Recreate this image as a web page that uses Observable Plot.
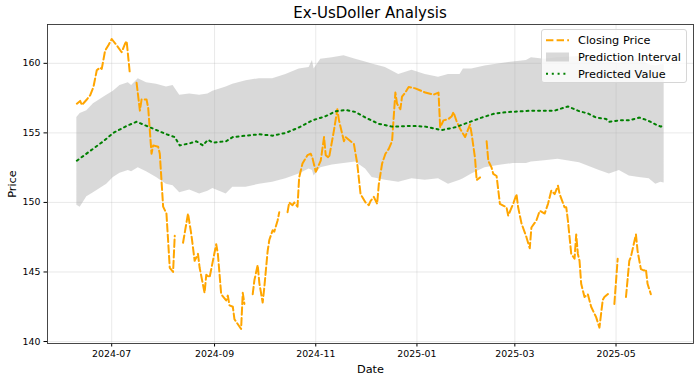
<!DOCTYPE html>
<html>
<head>
<meta charset="utf-8">
<script src="https://cdn.jsdelivr.net/npm/d3@7"></script>
<script src="https://cdn.jsdelivr.net/npm/@observablehq/plot@0.6"></script>
<style>
  html, body { margin: 0; padding: 0; background: white; }
  #wrap { position: relative; width: 700px; height: 383px; font-family: "DejaVu Sans", sans-serif; }
  #title { height: 20px; box-sizing: border-box; padding-top: 6px; margin-left: 47px; width: 646px;
           text-align: center; font-size: 15px; line-height: 15px; color: #000; }
  #legend { position: absolute; left: 541px; top: 29px; width: 146px; height: 54px; box-sizing: border-box;
            background: rgba(255,255,255,0.8); border: 1px solid #d6d6d6; border-radius: 3px; }
  #legend svg { position: absolute; left: -1px; top: -1px; }
</style>
</head>
<body>
<div id="wrap">
  <div id="title">Ex-UsDoller Analysis</div>
  <div id="chart"></div>
  <div id="legend"></div>
</div>
<script>
// ---- Data ----
const closeDates = [
  "2024-06-10","2024-06-12","2024-06-13","2024-06-16","2024-06-18","2024-06-20","2024-06-22","2024-06-24","2024-06-25","2024-06-27",
  "2024-06-29","2024-07-01","2024-07-04","2024-07-07","2024-07-09","2024-07-10","2024-07-12","2024-07-14","2024-07-16","2024-07-18",
  "2024-07-19","2024-07-22","2024-07-23","2024-07-25","2024-07-26","2024-07-29","2024-07-30","2024-08-01","2024-08-03","2024-08-05",
  "2024-08-07","2024-08-08","2024-08-10","2024-08-13","2024-08-16","2024-08-18","2024-08-20","2024-08-22","2024-08-23","2024-08-26",
  "2024-08-27","2024-08-29","2024-08-31","2024-09-02","2024-09-03","2024-09-05","2024-09-08","2024-09-09","2024-09-10","2024-09-12",
  "2024-09-13","2024-09-17","2024-09-18","2024-09-19","2024-09-21","2024-09-24","2024-09-25","2024-09-27","2024-09-28","2024-09-30",
  "2024-10-01","2024-10-03","2024-10-04","2024-10-06","2024-10-07","2024-10-09","2024-10-10","2024-10-12","2024-10-15","2024-10-16",
  "2024-10-18","2024-10-19","2024-10-21","2024-10-22","2024-10-24","2024-10-27","2024-10-29","2024-10-30","2024-11-01","2024-11-04",
  "2024-11-06","2024-11-07","2024-11-09","2024-11-12","2024-11-14","2024-11-15","2024-11-18","2024-11-19","2024-11-24","2024-11-26",
  "2024-11-28","2024-12-01","2024-12-03","2024-12-04","2024-12-06","2024-12-08","2024-12-09","2024-12-11","2024-12-13","2024-12-15",
  "2024-12-17","2024-12-19","2024-12-20","2024-12-22","2024-12-23","2024-12-25","2024-12-27","2024-12-31","2025-01-06","2025-01-11",
  "2025-01-14","2025-01-15","2025-01-17","2025-01-20","2025-01-22","2025-01-23","2025-01-25","2025-01-27","2025-01-29","2025-01-30",
  "2025-02-01","2025-02-02","2025-02-03","2025-02-05","2025-02-06","2025-02-08","2025-02-10","2025-02-12","2025-02-13","2025-02-15",
  "2025-02-16","2025-02-18","2025-02-19","2025-02-20","2025-02-24","2025-02-25","2025-02-28","2025-03-02","2025-03-03","2025-03-05",
  "2025-03-08","2025-03-10","2025-03-11","2025-03-14","2025-03-16","2025-03-19","2025-03-21","2025-03-23","2025-03-25","2025-03-27",
  "2025-03-28","2025-03-31","2025-04-01","2025-04-02","2025-04-04","2025-04-06","2025-04-07","2025-04-08","2025-04-09","2025-04-10",
  "2025-04-12","2025-04-14","2025-04-16","2025-04-19","2025-04-21","2025-04-23","2025-04-24","2025-04-27","2025-04-28","2025-04-30",
  "2025-05-02","2025-05-05","2025-05-07","2025-05-09","2025-05-10","2025-05-13","2025-05-14","2025-05-16","2025-05-18","2025-05-19",
  "2025-05-20","2025-05-22"
];
const closeValues = [
  157.1,157.3,157.0,157.4,157.7,158.3,159.5,159.7,159.6,160.9,
  161.3,161.75,161.3,160.8,161.4,161.6,159.2,null,158.6,156.6,
  157.4,157.4,156.8,153.5,154.1,154.0,153.5,149.7,149.2,145.3,
  145.0,147.6,null,147.1,149.2,147.7,145.8,146.3,145.3,143.5,
  144.8,144.6,145.8,147.0,146.3,143.4,142.95,143.3,142.6,142.5,
  141.6,140.9,143.5,142.7,null,143.4,144.4,145.5,144.2,142.8,
  143.9,146.5,147.3,148.0,147.9,148.7,149.3,null,149.3,150.0,
  149.8,150.0,149.7,151.8,152.8,153.4,153.5,153.2,152.2,153.0,
  154.7,153.4,153.2,155.2,156.7,155.9,154.4,154.7,154.2,152.8,
  150.6,150.0,149.8,150.1,150.4,149.9,151.3,152.8,153.5,153.85,
  154.4,157.9,157.1,156.7,157.6,157.9,158.3,158.2,157.9,157.75,
  157.9,155.4,155.9,156.0,156.2,156.5,155.8,155.3,154.9,154.7,
  155.3,155.6,154.9,153.2,151.6,151.8,null,154.4,153.0,152.5,
  152.05,151.9,150.9,149.9,149.65,149.05,149.9,150.6,149.65,148.5,
  147.5,146.7,148.2,148.7,149.4,149.2,149.9,150.85,150.6,151.2,
  150.6,149.65,149.65,148.7,146.3,145.95,147.7,146.3,145.8,144.15,
  143.2,143.4,142.5,141.75,141.0,143.0,143.2,143.5,null,142.7,
  145.95,null,143.2,145.8,146.1,147.7,146.5,145.2,145.1,145.2,
  144.15,143.4
];

const predDates = [
  "2024-06-10","2024-06-18","2024-06-26","2024-07-02","2024-07-10","2024-07-16","2024-07-22","2024-07-28","2024-08-03","2024-08-08",
  "2024-08-11","2024-08-17","2024-08-21","2024-08-25","2024-08-28","2024-08-31","2024-09-08","2024-09-12","2024-09-20","2024-09-28",
  "2024-10-06","2024-10-14","2024-10-22","2024-10-30","2024-11-07","2024-11-13","2024-11-19","2024-11-25","2024-12-01","2024-12-09",
  "2024-12-17","2024-12-29","2025-01-06","2025-01-16","2025-01-24","2025-02-01","2025-02-09","2025-02-17","2025-02-25","2025-03-05",
  "2025-03-11","2025-03-19","2025-03-25","2025-04-02","2025-04-09","2025-04-14","2025-04-19","2025-04-25","2025-04-27","2025-05-03",
  "2025-05-09","2025-05-15","2025-05-20","2025-05-25","2025-05-28","2025-05-30"
];
const predValues = [
  153.0,153.7,154.4,155.0,155.5,155.8,155.5,155.2,154.9,154.7,
  154.1,154.25,154.4,154.1,154.5,154.3,154.4,154.7,154.8,154.9,
  154.8,155.0,155.4,155.9,156.2,156.55,156.65,156.5,156.1,155.65,
  155.45,155.5,155.45,155.2,155.4,155.75,156.1,156.4,156.5,156.55,
  156.6,156.6,156.6,156.9,156.55,156.4,156.1,156.0,155.8,155.9,
  155.9,156.1,155.9,155.6,155.45,155.6
];

const bandDates = [
  "2024-06-10","2024-06-12","2024-06-16","2024-06-20","2024-06-24","2024-06-28","2024-07-02","2024-07-06","2024-07-11","2024-07-13",
  "2024-07-17","2024-07-22","2024-07-28","2024-08-03","2024-08-07","2024-08-11","2024-08-17","2024-08-23","2024-08-28","2024-08-31",
  "2024-09-08","2024-09-12","2024-09-20","2024-09-28","2024-10-06","2024-10-14","2024-10-22","2024-10-28","2024-10-30","2024-10-31",
  "2024-11-04","2024-11-11","2024-11-18","2024-11-25","2024-12-01","2024-12-05","2024-12-13","2024-12-21","2024-12-29","2025-01-06",
  "2025-01-14","2025-01-20","2025-01-27","2025-01-29","2025-02-03","2025-02-11","2025-02-19","2025-02-28","2025-03-08","2025-03-11",
  "2025-03-19","2025-03-27","2025-04-09","2025-04-21","2025-04-27","2025-05-03","2025-05-09","2025-05-15","2025-05-21","2025-05-25",
  "2025-05-28","2025-05-30"
];
const bandUpper = [
  156.1,156.4,156.6,157.1,157.4,157.7,158.0,158.4,158.6,158.4,
  158.9,158.6,158.5,158.3,158.4,157.7,157.8,157.7,157.8,158.0,
  158.3,158.5,158.75,158.9,158.9,159.2,159.6,159.7,160.2,159.6,
  160.3,160.4,160.55,160.3,160.1,159.95,159.7,159.2,159.5,159.2,
  159.0,159.2,159.2,159.6,159.6,159.8,159.95,160.1,160.2,160.4,
  160.3,160.4,160.5,160.2,160.1,160.0,160.2,160.3,159.9,159.8,
  159.9,159.9
];
const bandLower = [
  149.8,149.65,150.4,150.7,151.0,151.3,151.8,152.1,152.3,152.2,
  152.5,152.2,151.8,151.3,151.2,150.7,150.9,150.6,150.8,151.0,
  150.6,151.1,151.1,151.3,151.45,151.7,152.05,152.4,152.3,151.9,
  152.5,152.7,152.8,152.9,152.4,151.8,151.6,151.45,151.7,151.6,
  151.7,151.3,151.6,151.7,152.05,152.5,152.65,152.8,152.8,152.9,
  153.0,153.1,152.85,152.3,152.05,152.3,151.9,151.8,151.7,151.3,
  151.45,151.4
];

const xTickDates = ["2024-07-01","2024-09-01","2024-11-01","2025-01-01","2025-03-01","2025-05-01"];
const yTickValues = [140, 145, 150, 155, 160];

// ---- Build tables ----
const parse = d3.utcParse("%Y-%m-%d");
const close = closeDates.map((d, i) => ({date: parse(d), value: closeValues[i]}));
const pred = predDates.map((d, i) => ({date: parse(d), value: predValues[i]}));
const band = bandDates.map((d, i) => ({date: parse(d), lower: bandLower[i], upper: bandUpper[i]}));
const xTicks = xTickDates.map(parse);

// matplotlib-like 5% margins
const allDates = [...close, ...pred, ...band].map(d => d.date);
const [dx0, dx1] = d3.extent(allDates);
const xPad = (dx1 - dx0) * 0.05;
const allVals = [
  ...closeValues.filter(v => v != null), ...predValues, ...bandLower, ...bandUpper
];
const [vy0, vy1] = d3.extent(allVals);
const yPad = (vy1 - vy0) * 0.05;

const chart = Plot.plot({
  width: 700,
  height: 363,
  marginTop: 4,
  marginBottom: 40,
  marginLeft: 47,
  marginRight: 7,
  style: {fontFamily: "DejaVu Sans, sans-serif", fontSize: "9.4px", color: "#000", background: "white", overflow: "visible"},
  x: {type: "utc", domain: [new Date(+dx0 - xPad), new Date(+dx1 + xPad)]},
  y: {domain: [vy0 - yPad, vy1 + yPad]},
  marks: [
    Plot.areaY(band, {x: "date", y1: "lower", y2: "upper", fill: "gray", fillOpacity: 0.3}),
    Plot.gridX(xTicks, {stroke: "#b0b0b0", strokeOpacity: 0.35, strokeWidth: 0.8}),
    Plot.gridY(yTickValues, {stroke: "#b0b0b0", strokeOpacity: 0.35, strokeWidth: 0.8}),
    Plot.line(close, {x: "date", y: "value", stroke: "orange", strokeWidth: 2, strokeDasharray: "7.4,3.2"}),
    Plot.line(pred, {x: "date", y: "value", stroke: "green", strokeWidth: 2, strokeDasharray: "2,3.8"}),
    Plot.axisX(xTicks, {tickFormat: d3.utcFormat("%Y-%m"), tickSize: 3.5, tickPadding: 3.5, label: null, fontSize: 9.4}),
    Plot.axisY(yTickValues, {tickSize: 3.5, tickPadding: 3.5, label: null, fontSize: 9.4}),
    Plot.frame({stroke: "#333", strokeWidth: 0.9}),
    Plot.text(["Price"], {text: d => d, frameAnchor: "left", dx: -35, rotate: -90, textAnchor: "middle", lineAnchor: "middle", fontSize: 11.3, fill: "#000"}),
    Plot.text(["Date"], {text: d => d, frameAnchor: "bottom", dy: 25.7, textAnchor: "middle", lineAnchor: "middle", fontSize: 11.3, fill: "#000"})
  ]
});
document.getElementById("chart").appendChild(chart);

// ---- Legend ----
const legendItems = ["Closing Price", "Prediction Interval", "Predicted Value"];
const rowY = [11.3, 28, 44.7];
const lg = d3.select("#legend").append("svg").attr("width", 146).attr("height", 54)
  .style("font-family", "DejaVu Sans, sans-serif").style("font-size", "11.3px");
lg.append("line").attr("x1", 5).attr("x2", 28).attr("y1", rowY[0]).attr("y2", rowY[0])
  .attr("stroke", "orange").attr("stroke-width", 2).attr("stroke-dasharray", "7.4,3.2");
lg.append("rect").attr("x", 5).attr("y", rowY[1] - 4.5).attr("width", 23).attr("height", 9)
  .attr("fill", "gray").attr("fill-opacity", 0.3);
lg.append("line").attr("x1", 5).attr("x2", 28).attr("y1", rowY[2]).attr("y2", rowY[2])
  .attr("stroke", "green").attr("stroke-width", 2).attr("stroke-dasharray", "2,3.8");
legendItems.forEach((t, i) => {
  lg.append("text").attr("x", 37).attr("y", rowY[i]).attr("dy", "0.35em").attr("fill", "#000").text(t);
});
</script>
</body>
</html>
